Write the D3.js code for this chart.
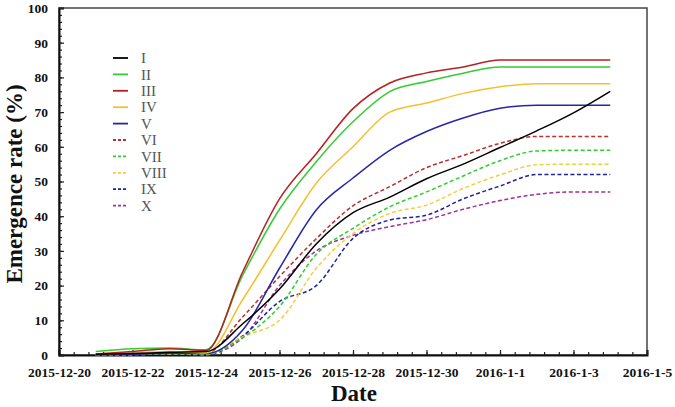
<!DOCTYPE html>
<html>
<head>
<meta charset="utf-8">
<script src="https://cdn.jsdelivr.net/npm/d3@7"></script>
<style>
  html, body { margin: 0; padding: 0; background: #fff; }
  svg { display: block; }
</style>
</head>
<body>
<svg id="chart" width="675" height="407"></svg>
<script>
// ---------------- data ----------------
const dates = ["2015-12-21","2015-12-22","2015-12-23","2015-12-24","2015-12-25","2015-12-26","2015-12-27",
  "2015-12-28","2015-12-29","2015-12-30","2015-12-31","2016-01-01","2016-01-02","2016-01-03","2016-01-04"];
const seriesNames = ["I","II","III","IV","V","VI","VII","VIII","IX","X"];
const sI    = [0.2, 0.4, 0.8, 1.0, 9.0, 19.0, 32.0, 41.0, 45.5, 50.8, 55.0, 59.8, 64.6, 69.8, 76.0];
const sII   = [1.0, 1.8, 2.0, 1.5, 23.0, 42.0, 55.7, 67.2, 75.9, 78.8, 81.2, 83.0, 83.0, 83.0, 83.0];
const sIII  = [0.3, 1.0, 1.8, 1.3, 24.0, 45.0, 58.0, 71.0, 78.4, 81.3, 83.0, 85.0, 85.0, 85.0, 85.0];
const sIV   = [0.3, 0.6, 1.0, 0.6, 16.0, 33.0, 49.5, 60.0, 70.0, 72.6, 75.4, 77.3, 78.2, 78.2, 78.2];
const sV    = [0.1, 0.2, 0.5, 0.4, 7.2, 25.0, 41.8, 51.0, 59.0, 64.4, 68.3, 71.1, 72.0, 72.0, 72.0];
const sVI   = [0.1, 0.3, 0.6, 0.5, 11.0, 22.6, 33.5, 43.0, 48.5, 54.0, 57.5, 61.0, 63.0, 63.0, 63.0];
const sVII  = [0.0, 0.2, 0.4, 0.3, 5.0, 14.0, 29.0, 36.5, 42.7, 47.0, 51.6, 56.0, 58.8, 59.0, 59.0];
const sVIII = [0.0, 0.1, 0.3, 0.1, 5.3, 10.0, 25.0, 35.0, 40.8, 43.2, 48.0, 51.9, 54.8, 55.0, 55.0];
const sIX   = [0.0, 0.1, 0.3, 0.1, 5.5, 15.4, 20.0, 33.6, 38.9, 40.3, 45.0, 48.7, 52.0, 52.0, 52.0];
const sX    = [0.0, 0.3, 0.5, 0.3, 5.0, 20.0, 30.0, 34.5, 37.0, 39.0, 42.0, 44.5, 46.3, 47.0, 47.0];
const xTickLabels = ["2015-12-20","2015-12-22","2015-12-24","2015-12-26","2015-12-28","2015-12-30","2016-1-1","2016-1-3","2016-1-5"];
const yTicks = [0,10,20,30,40,50,60,70,80,90,100];

const allSeries = [sI,sII,sIII,sIV,sV,sVI,sVII,sVIII,sIX,sX];
const colors = ["#000000","#33cc33","#b82020","#f2c12e","#2626a8","#b83030","#33cc33","#f2cf3a","#22229a","#a0309a"];
const dashed = [false,false,false,false,false,true,true,true,true,true];

// ---------------- layout ----------------
const svg = d3.select("#chart");
const mLeft = 59, mRight = 647, mTop = 8, mBottom = 355;
const parse = d3.timeParse("%Y-%m-%d");
const x = d3.scaleTime().domain([parse("2015-12-20"), parse("2016-01-05")]).range([mLeft, mRight]);
const y = d3.scaleLinear().domain([0, 100]).range([mBottom, mTop]);

// frame (top & right)
svg.append("rect").attr("x", mLeft).attr("y", mTop).attr("width", mRight-mLeft).attr("height", mBottom-mTop)
  .attr("fill", "none").attr("stroke", "#444").attr("stroke-width", 1.5);

// minor x ticks every 0.4 day
const dayMs = 86400000;
const x0 = parse("2015-12-20").getTime();
const minorX = d3.range(0, 16.001, 0.4).map(d => new Date(x0 + d*dayMs));
svg.append("g").attr("transform", `translate(0,${mBottom})`)
  .call(d3.axisBottom(x).tickValues(minorX).tickSize(-3).tickFormat(""))
  .call(g => g.select(".domain").remove())
  .selectAll("line").attr("stroke", "#222").attr("stroke-width", 1.2);

const majorX = xTickLabels.map(s => { const p = s.split("-"); return new Date(+p[0], +p[1]-1, +p[2]); });
const xAxis = svg.append("g").attr("transform", `translate(0,${mBottom})`)
  .call(d3.axisBottom(x).tickValues(majorX).tickSize(-5).tickPadding(12)
    .tickFormat((d,i) => xTickLabels[i]));
xAxis.select(".domain").attr("stroke", "#111").attr("stroke-width", 2);
xAxis.selectAll("line").attr("stroke", "#222").attr("stroke-width", 1.2);
xAxis.selectAll("text").attr("font-family", "Liberation Serif, Times New Roman, serif")
  .attr("font-weight", "bold").attr("font-size", 13.5).attr("fill", "#111");

// y minor ticks
svg.append("g").attr("transform", `translate(${mLeft},0)`)
  .call(d3.axisLeft(y).tickValues(d3.range(0, 101, 2)).tickSize(-3).tickFormat(""))
  .call(g => g.select(".domain").remove())
  .selectAll("line").attr("stroke", "#222").attr("stroke-width", 1.2);
const yAxis = svg.append("g").attr("transform", `translate(${mLeft},0)`)
  .call(d3.axisLeft(y).tickValues(yTicks).tickSize(-5).tickPadding(11));
yAxis.select(".domain").attr("stroke", "#111").attr("stroke-width", 2);
yAxis.selectAll("line").attr("stroke", "#222").attr("stroke-width", 1.2);
yAxis.selectAll("text").attr("font-family", "Liberation Serif, Times New Roman, serif")
  .attr("font-weight", "bold").attr("font-size", 13.5).attr("fill", "#111");

// lines
const line = d3.line().x((d,i) => x(parse(dates[i]))).y(d => y(d)).curve(d3.curveMonotoneX);
const order = [9,8,7,6,5,4,3,1,2,0];
order.forEach(k => {
  svg.append("path").datum(allSeries[k]).attr("d", line)
    .attr("fill", "none").attr("stroke", colors[k]).attr("stroke-width", 1.5)
    .attr("stroke-dasharray", dashed[k] ? "4,2.5" : null);
});

// legend
const lg = svg.append("g");
seriesNames.forEach((n, i) => {
  const yy = 58 + i*16.4;
  lg.append("line").attr("x1", 113).attr("x2", 128).attr("y1", yy).attr("y2", yy)
    .attr("stroke", colors[i]).attr("stroke-width", 1.8).attr("stroke-dasharray", dashed[i] ? "3,2" : null);
  lg.append("text").attr("x", 141).attr("y", yy).attr("dy", "0.35em").text(n)
    .attr("font-family", "Liberation Serif, Times New Roman, serif").attr("font-size", 15).attr("fill", "#555");
});

// titles
svg.append("text").attr("x", 354).attr("y", 401).attr("text-anchor", "middle")
  .attr("font-family", "Liberation Serif, Times New Roman, serif").attr("font-weight", "bold")
  .attr("font-size", 23).attr("fill", "#111").text("Date");
svg.append("text").attr("transform", `translate(22,184) rotate(-90)`).attr("text-anchor", "middle")
  .attr("font-family", "Liberation Serif, Times New Roman, serif").attr("font-weight", "bold")
  .attr("font-size", 23).attr("fill", "#111").text("Emergence rate (%)");
</script>
</body>
</html>
